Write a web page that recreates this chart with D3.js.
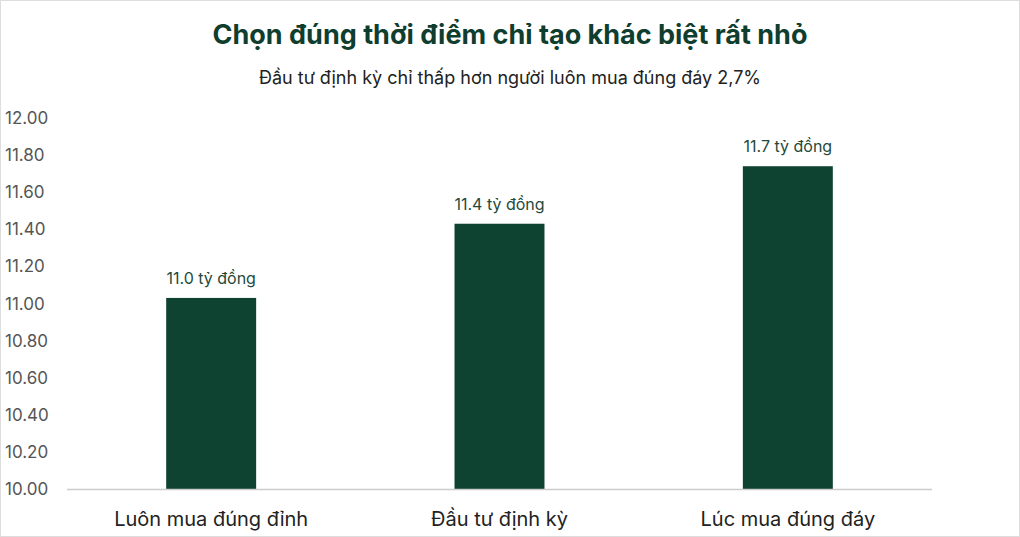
<!DOCTYPE html><html><head><meta charset="utf-8"><script src="https://cdn.jsdelivr.net/npm/d3@7"></script>
<style>body{margin:0;background:#fff}text{font-family:Inter,"Noto Sans",sans-serif}</style></head><body><svg id="c" width="1020" height="537"></svg>
<script>
const categories=["Luôn mua đúng đỉnh","Đầu tư định kỳ","Lúc mua đúng đáy"];
const values=[11.03,11.43,11.74];
const labels=["11.0 tỷ đồng","11.4 tỷ đồng","11.7 tỷ đồng"];
const yTicks=[10,10.2,10.4,10.6,10.8,11,11.2,11.4,11.6,11.8,12];
const svg=d3.select("#c");
svg.append("rect").attr("x",0.5).attr("y",0.5).attr("width",1019).attr("height",536).attr("fill","none").attr("stroke","#ddd");
const x=d3.scaleBand().domain(categories).range([67,932]).paddingInner(0.688).paddingOuter(0.344);
const y=d3.scaleLinear().domain([10,12]).range([489,118]);
svg.append("text").attr("x",510).attr("y",44).attr("text-anchor","middle").attr("font-size",27).attr("font-weight",700).attr("fill","#0f3d2e").text("Chọn đúng thời điểm chỉ tạo khác biệt rất nhỏ");
svg.append("text").attr("x",510).attr("y",84).attr("text-anchor","middle").attr("font-size",18).attr("fill","#222").text("Đầu tư định kỳ chỉ thấp hơn người luôn mua đúng đáy 2,7%");
svg.selectAll(".yt").data(yTicks).join("text").attr("x",5).attr("y",d=>y(d)+6).attr("font-size",17).attr("fill","#555").text(d=>d.toFixed(2));
svg.selectAll(".bar").data(values).join("rect").attr("x",(d,i)=>x(categories[i])).attr("width",x.bandwidth()).attr("y",d=>y(d)).attr("height",d=>y(10)-y(d)).attr("fill","#0d4330");
svg.append("line").attr("x1",67).attr("x2",932).attr("y1",489.5).attr("y2",489.5).attr("stroke","#ccc").attr("stroke-width",1.5);
svg.selectAll(".dl").data(values).join("text").attr("x",(d,i)=>x(categories[i])+x.bandwidth()/2).attr("y",d=>y(d)-14).attr("text-anchor","middle").attr("font-size",16).attr("fill","#1f4a3b").text((d,i)=>labels[i]);
svg.selectAll(".cl").data(categories).join("text").attr("x",d=>x(d)+x.bandwidth()/2).attr("y",526).attr("text-anchor","middle").attr("font-size",20).attr("fill","#222").text(d=>d);
</script></body></html>
